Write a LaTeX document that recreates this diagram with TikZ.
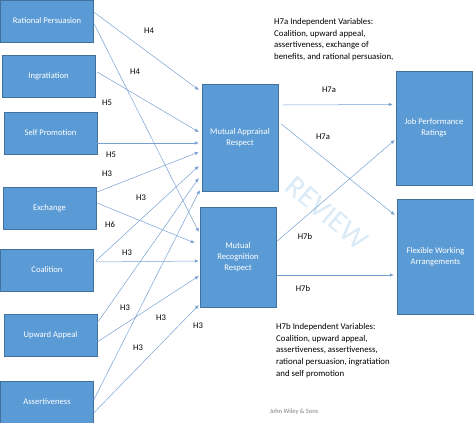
\documentclass[tikz,border=0pt]{standalone}
\usepackage{fontspec}
\setmainfont{Carlito}
\usetikzlibrary{arrows.meta}

\definecolor{boxfill}{RGB}{91,155,213}
\definecolor{boxline}{RGB}{65,113,156}
\definecolor{linkcol}{RGB}{120,160,210}
\definecolor{wmcol}{RGB}{218,234,246}

\tikzset{
  varbox/.style={draw=boxline, fill=boxfill, text=white, align=center,
    inner sep=1pt, font=\fontsize{8.6}{11}\selectfont},
  lbox/.style={varbox, minimum width=93pt, minimum height=42pt},
  mbox/.style={varbox, minimum width=76pt},
  link/.style={draw=linkcol, line width=0.5pt, -{Latex[length=4pt,width=3.5pt]}},
  hyp/.style={font=\fontsize{8.6}{10}\selectfont, inner sep=0pt},
  note/.style={font=\fontsize{8.8}{11.8}\selectfont, align=left, inner sep=0pt, anchor=north west}
}

\begin{document}
\begin{tikzpicture}[x=1pt, y=-1pt]
    \useasboundingbox (0,0) rectangle (474,423);

    % watermark
    \node[text=wmcol, font=\fontsize{30}{30}\selectfont, rotate=-40] (wm) at (327,213) {REVIEW};

    % influence tactics
    \node[lbox] (rp) at (47,21) {Rational Persuasion};
    \node[lbox] (ingr) at (48.5,76) {Ingratiation};
    \node[lbox] (sp) at (50.5,133) {Self Promotion};
    \node[lbox] (exch) at (49.5,208) {Exchange};
    \node[lbox] (coal) at (47,270) {Coalition};
    \node[lbox] (ua) at (50.5,335.5) {Upward Appeal};
    \node[lbox] (asrt) at (47,402) {Assertiveness};

    % mediators
    \node[mbox, minimum height=107pt] (mar) at (240,137.5) {Mutual Appraisal\\Respect};
    \node[mbox, minimum height=100pt] (mrr) at (238,257) {Mutual\\Recognition\\Respect};

    % outcomes
    \node[mbox, minimum height=114pt] (jpr) at (434,128) {Job Performance\\Ratings};
    \node[mbox, minimum width=77pt, minimum height=115pt] (fwa) at (435.5,256.5) {Flexible Working\\Arrangements};

    % links to mutual appraisal respect
    \draw[link] ([yshift=9pt]rp.east) -- ([xshift=-3pt,yshift=47.5pt]mar.west);
    \draw[link] ([xshift=2pt,yshift=4pt]ingr.east) -- ([xshift=-3pt,yshift=5.5pt]mar.west);
    \draw[link] ([yshift=-10pt]sp.east) -- ([xshift=-3pt,yshift=-5.5pt]mar.west);
    \draw[link] ([xshift=1pt,yshift=16pt]exch.east) -- ([xshift=-3pt,yshift=-14.5pt]mar.west);
    \draw[link] ([xshift=2pt,yshift=9pt]coal.east) -- ([xshift=-3pt,yshift=-28.5pt]mar.west);
    \draw[link] ([yshift=12.5pt]ua.east) -- ([xshift=-3pt,yshift=-40.5pt]mar.west);
    \draw[link] ([yshift=2pt]asrt.east) -- ([xshift=-2pt,yshift=-52.5pt]mar.west);

    % links to mutual recognition respect
    \draw[link] ([yshift=-2pt]rp.east) -- ([xshift=-1pt,yshift=25pt]mrr.west);
    \draw[link] ([xshift=1pt,yshift=5pt]exch.east) -- ([xshift=-5pt,yshift=14pt]mrr.west);
    \draw[link] ([xshift=2pt,yshift=8pt]coal.east) -- ([xshift=-1pt,yshift=-4pt]mrr.west);
    \draw[link] ([yshift=-6.5pt]ua.east) -- ([xshift=-1pt,yshift=-19pt]mrr.west);
    \draw[link] ([yshift=-11pt]asrt.east) -- ([xshift=-1pt,yshift=-48pt]mrr.west);

    % links to outcomes
    \draw[link] ([xshift=5pt,yshift=32.5pt]mar.east) -- ([xshift=-3pt,yshift=23.5pt]jpr.west);
    \draw[link] ([xshift=3pt,yshift=13.5pt]mar.east) -- ([xshift=-2pt,yshift=41.5pt]fwa.west);
    \draw[link] ([xshift=1pt,yshift=16pt]mrr.east) -- ([xshift=-1pt,yshift=-12pt]jpr.west);
    \draw[link] ([xshift=1pt,yshift=-18pt]mrr.east) -- ([xshift=-3pt,yshift=-18.5pt]fwa.west);

    % hypothesis labels
    \node[hyp] (h4a) at (149,31) {H4};
    \node[hyp] (h4b) at (135,72) {H4};
    \node[hyp] (h5a) at (107,103) {H5};
    \node[hyp] (h5b) at (111,155) {H5};
    \node[hyp] (h3a) at (107,174) {H3};
    \node[hyp] (h3b) at (141,198) {H3};
    \node[hyp] (h6) at (110,225) {H6};
    \node[hyp] (h3c) at (127,253) {H3};
    \node[hyp] (h3d) at (125,308) {H3};
    \node[hyp] (h3e) at (161,318) {H3};
    \node[hyp] (h3f) at (198,326) {H3};
    \node[hyp] (h3g) at (138,348) {H3};
    \node[hyp] (h7a1) at (329,90) {H7a};
    \node[hyp] (h7a2) at (323,137) {H7a};
    \node[hyp] (h7b1) at (305,237) {H7b};
    \node[hyp] (h7b2) at (303,289) {H7b};

    % notes
    \node[note] (n7a) at (274,18) {H7a Independent Variables:\\Coalition, upward appeal,\\assertiveness, exchange of\\benefits, and rational persuasion,};
    \node[note] (n7b) at (276,323) {H7b Independent Variables:\\Coalition, upward appeal,\\assertiveness, assertiveness,\\rational persuasion, ingratiation\\and self promotion};
    \node[text=gray, font=\fontsize{6.5}{8}\selectfont] (pub) at (294,412) {John Wiley \& Sons};
  \end{tikzpicture}
\end{document}
